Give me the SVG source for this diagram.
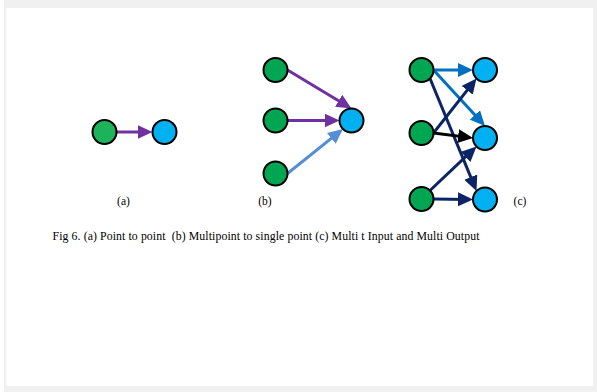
<svg xmlns="http://www.w3.org/2000/svg" width="597" height="392" viewBox="0 0 597 392">
  <style>
    .node { stroke: #000; stroke-width: 2; }
    .src { fill: #00a651; }
    .src-a { fill: #1db35b; }
    .dst { fill: #00b0f0; }
    .edge { fill: none; stroke-width: 3; }
    .purple { stroke: #7030a0; }
    .sky { stroke: #558ed5; }
    .blue { stroke: #0070c0; }
    .navy { stroke: #0b2466; }
    .black { stroke: #000; }
    .label { font-family: "Liberation Serif", "Times New Roman", serif; font-size: 11.5px; fill: #000; }
    .caption { font-family: "Liberation Serif", "Times New Roman", serif; font-size: 11.8px; fill: #000; white-space: pre; }
  </style>
  <defs>
    <marker id="arrow-purple" viewBox="0 0 15 14" refX="10" refY="7" markerWidth="15" markerHeight="14" markerUnits="userSpaceOnUse" orient="auto">
      <path d="M0,0 L15,7 L0,14 z" fill="#7030a0"/>
    </marker>
    <marker id="arrow-sky" viewBox="0 0 15 14" refX="10" refY="7" markerWidth="15" markerHeight="14" markerUnits="userSpaceOnUse" orient="auto">
      <path d="M0,0 L15,7 L0,14 z" fill="#558ed5"/>
    </marker>
    <marker id="arrow-blue" viewBox="0 0 15 14" refX="10" refY="7" markerWidth="15" markerHeight="14" markerUnits="userSpaceOnUse" orient="auto">
      <path d="M0,0 L15,7 L0,14 z" fill="#0070c0"/>
    </marker>
    <marker id="arrow-navy" viewBox="0 0 15 14" refX="10" refY="7" markerWidth="15" markerHeight="14" markerUnits="userSpaceOnUse" orient="auto">
      <path d="M0,0 L15,7 L0,14 z" fill="#0b2466"/>
    </marker>
    <marker id="arrow-black" viewBox="0 0 15 14" refX="10" refY="7" markerWidth="15" markerHeight="14" markerUnits="userSpaceOnUse" orient="auto">
      <path d="M0,0 L15,7 L0,14 z" fill="#000"/>
    </marker>
  </defs>

  <!-- page frame -->
  <rect x="4" y="0" width="593" height="392" fill="#f0f0f0"/>
  <rect x="6.5" y="8" width="586.5" height="378" fill="#ffffff"/>

  <!-- connectors -->
  <g id="connectors">
    <!-- (a) point to point -->
    <line class="edge purple" x1="116.5" y1="132" x2="147.5" y2="132" marker-end="url(#arrow-purple)"/>
    <!-- (b) multipoint to single point -->
    <line class="edge purple" x1="287.5" y1="70" x2="347.22" y2="105.92" marker-end="url(#arrow-purple)"/>
    <line class="edge purple" x1="287.5" y1="120.5" x2="334.5" y2="120.5" marker-end="url(#arrow-purple)"/>
    <line class="edge sky" x1="287.5" y1="173.5" x2="339.1" y2="132.13" marker-end="url(#arrow-sky)"/>
    <!-- (c) multiple input, multiple output -->
    <line class="edge blue" x1="433.5" y1="70" x2="468" y2="70" marker-end="url(#arrow-blue)"/>
    <line class="edge blue" x1="433.5" y1="70" x2="481.62" y2="122.32" marker-end="url(#arrow-blue)"/>
    <line class="edge navy" x1="430" y1="78.5" x2="474.59" y2="186.38" marker-end="url(#arrow-navy)"/>
    <line class="edge navy" x1="433.5" y1="133" x2="473.4" y2="82.43" marker-end="url(#arrow-navy)"/>
    <line class="edge black" x1="433.5" y1="133" x2="468.04" y2="137.37" marker-end="url(#arrow-black)"/>
    <line class="edge navy" x1="430" y1="190.5" x2="472.87" y2="149.94" marker-end="url(#arrow-navy)"/>
    <line class="edge navy" x1="433.5" y1="199" x2="468" y2="199.44" marker-end="url(#arrow-navy)"/>
  </g>

  <!-- (a) nodes -->
  <g id="a-src"><circle class="node src-a" cx="104.5" cy="132" r="12"/></g>
  <g id="a-dst"><circle class="node dst" cx="164.5" cy="132" r="12"/></g>

  <!-- (b) nodes -->
  <g id="b-src1"><circle class="node src" cx="275.5" cy="70" r="12"/></g>
  <g id="b-src2"><circle class="node src" cx="275.5" cy="120.5" r="12"/></g>
  <g id="b-src3"><circle class="node src" cx="275.5" cy="173.5" r="12"/></g>
  <g id="b-dst"><circle class="node dst" cx="351.5" cy="120.5" r="12"/></g>

  <!-- (c) nodes -->
  <g id="c-src1"><circle class="node src" cx="421.5" cy="70" r="12"/></g>
  <g id="c-src2"><circle class="node src" cx="421.5" cy="133" r="12"/></g>
  <g id="c-src3"><circle class="node src" cx="421.5" cy="199" r="12"/></g>
  <g id="c-dst1"><circle class="node dst" cx="485" cy="70" r="12"/></g>
  <g id="c-dst2"><circle class="node dst" cx="485" cy="138" r="12"/></g>
  <g id="c-dst3"><circle class="node dst" cx="485" cy="199.5" r="12"/></g>

  <!-- sub-figure labels and caption -->
  <text class="label" x="123.5" y="205" text-anchor="middle">(a)</text>
  <text class="label" x="265" y="205" text-anchor="middle">(b)</text>
  <text class="label" x="520" y="205" text-anchor="middle">(c)</text>
  <text class="caption" x="52.5" y="240" xml:space="preserve" textLength="427" lengthAdjust="spacing">Fig 6. (a) Point to point  (b) Multipoint to single point (c) Multi t Input and Multi Output</text>
</svg>
